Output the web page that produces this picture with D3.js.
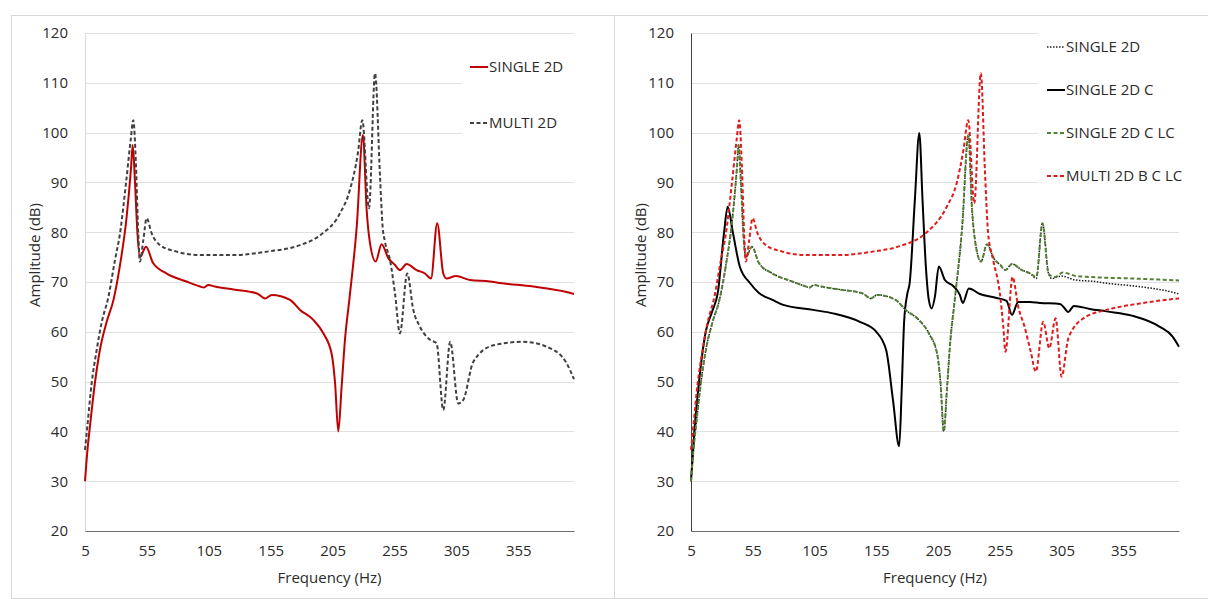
<!DOCTYPE html>
<html>
<head>
<meta charset="utf-8">
<script src="https://cdn.jsdelivr.net/npm/d3@7/dist/d3.min.js"></script>
<style>
  body { margin: 0; background: #fff; }
  text { font-family: "Open Sans", sans-serif; fill: #2b2b2b; }
</style>
</head>
<body>
<svg id="graph" width="1208" height="599"></svg>
<script>
// axis ticks
const freqTicks = [5, 55, 105, 155, 205, 255, 305, 355];
const ampTicks = [20, 30, 40, 50, 60, 70, 80, 90, 100, 110, 120];

// SINGLE 2D (red on the left, dotted on the right)
const single2dF = [5, 7, 9, 13, 17, 22.5, 28, 33, 38.6, 42.2, 43.5, 45.4, 47.3, 49.4, 54.3, 60, 71, 87, 98, 101, 104.6, 110, 125, 144, 150.4, 155.8, 170.6, 178.7, 189.4, 197.5, 204.3, 207, 209.6, 212.3, 215, 218.5, 224.5, 229.5, 232.5, 235.2, 239.8, 244.6, 250, 255.4, 259.4, 264.8, 272.8, 279.6, 284.5, 289.5, 294.4, 297, 304.7, 316, 332, 340, 367, 394, 400];
const single2dA = [30, 36.3, 41, 49.7, 56.3, 62, 66.4, 73, 83, 93, 97.5, 90, 80, 75, 77.1, 73.8, 71.7, 70.1, 69.1, 68.9, 69.4, 69.1, 68.5, 67.7, 66.7, 67.4, 66.4, 64.4, 62.4, 59.7, 55.5, 49.7, 40, 49, 58.4, 66.4, 81.1, 99.5, 84.5, 77.8, 74.1, 77.6, 74.8, 73.4, 72.4, 73.6, 72.4, 71.7, 70.7, 81.8, 71.7, 70.7, 71.2, 70.4, 70.1, 69.8, 69.1, 68, 67.6];

// MULTI 2D (left, grey dashed)
const multi2dF = [5, 6.9, 10.4, 14.4, 18.4, 23.9, 29.2, 33.3, 38.1, 41.9, 44, 46.2, 48, 49.4, 52.1, 54.8, 58.8, 65.6, 79, 98, 125, 152, 178.7, 195, 211, 219, 225.5, 229, 234.4, 239.3, 243.3, 245.4, 247.3, 251.4, 255.4, 259.4, 265.3, 270.2, 275.6, 283.7, 289, 294.4, 300, 306.5, 310.5, 318.7, 335, 359, 380.6, 394, 400];
const multi2dA = [36.3, 41, 49.7, 56.3, 61.8, 67, 74.4, 79.8, 89.8, 98.5, 102.5, 93.2, 79.8, 74.1, 78.4, 82.8, 79.8, 77.4, 76.1, 75.4, 75.4, 76.1, 77.4, 79.4, 83.8, 88.5, 96, 102.5, 84.8, 111.9, 91.2, 81.1, 78.1, 74.4, 67.7, 59.7, 71.7, 64.4, 61, 58.4, 57.7, 44.3, 58, 45.6, 46.3, 54, 57.3, 58, 56.7, 53.7, 50.5];

// SINGLE 2D C (right, black)
const single2dCF = [5, 7.7, 11.5, 17, 22, 26.8, 31.7, 34.7, 39, 44.6, 52.7, 60, 71, 79.7, 104, 120, 141.7, 155, 163, 168.5, 173.5, 175.5, 177.5, 180, 182, 186.2, 189.8, 192.4, 195.1, 197.5, 199.8, 202.4, 205.6, 210.5, 217.2, 222.6, 225, 229.9, 238.8, 252.3, 260.4, 264.8, 269.8, 279.3, 287.4, 303.6, 306.2, 310.3, 315, 327.8, 341.4, 362.6, 384.5, 395, 400];
const single2dCA = [30, 40, 50, 60.1, 64, 68, 79.8, 85.1, 79.8, 73, 69.8, 67.8, 66.4, 65.4, 64.4, 63.7, 62, 60, 56.3, 46.3, 37, 48, 62, 67.5, 69.8, 86.5, 99.9, 86.5, 73.1, 66.4, 64.7, 67, 73.1, 70.4, 69.2, 67.4, 65.8, 68.7, 67.6, 66.8, 66.2, 63.4, 66, 66, 65.8, 65.6, 65.1, 64, 65.2, 64.6, 64.1, 63.2, 61, 59, 57];

// SINGLE 2D C LC (right, green dashed)
const single2dCLCF = [5, 7, 9, 13, 17, 22.5, 28, 33, 38.6, 42.2, 43.5, 45.4, 47.3, 49.4, 54.3, 60, 71, 87, 98, 101, 104.6, 110, 125, 144, 150.4, 155.8, 170.6, 178.7, 189.4, 197.5, 204.3, 207, 209.6, 212.3, 215, 218.5, 224.5, 229.5, 232.5, 235.2, 239.8, 244.6, 250, 255.4, 259.4, 264.8, 272.8, 279.6, 284.5, 289.5, 294.4, 299.5, 306, 317, 328, 336, 362.6, 400];
const single2dCLCA = [30, 36.3, 41, 49.7, 56.3, 62, 66.4, 73, 83, 93, 97.5, 90, 80, 75, 77.1, 73.8, 71.7, 70.1, 69.1, 68.9, 69.4, 69.1, 68.5, 67.7, 66.7, 67.4, 66.4, 64.4, 62.4, 59.7, 55.5, 49.7, 40, 49, 58.4, 66.4, 81.1, 99.5, 84.5, 77.8, 74.1, 77.6, 74.8, 73.4, 72.4, 73.6, 72.4, 71.7, 71, 81.8, 71.7, 71, 71.9, 71.2, 71, 70.9, 70.7, 70.3];

// MULTI 2D B C LC (right, red dashed)
const multiBCLCF = [5, 6.9, 10.4, 14.4, 18.4, 23.9, 29.2, 33.3, 38.1, 41.9, 44, 46.2, 48, 49.4, 52.1, 54.8, 58.8, 65.6, 79, 98, 125, 152, 174, 195, 212, 220, 225.5, 229.4, 234.3, 239.6, 242.9, 245.5, 249.6, 255, 257.8, 259.5, 265.3, 269.9, 275, 280, 284.1, 290.1, 295, 300.1, 305, 310.4, 322.6, 341.4, 368.4, 400];
const multiBCLCA = [36.3, 41, 49.7, 56.3, 61.8, 67, 74.4, 79.8, 89.8, 98.5, 102.5, 93.2, 79.8, 74.1, 78.4, 82.8, 79.8, 77.4, 76.1, 75.4, 75.4, 76.1, 77.2, 79.8, 85.1, 89.8, 96.5, 102.5, 85.8, 111.9, 92.5, 79.8, 74.4, 67.7, 61, 56, 71, 65, 61, 56, 52, 62, 56.7, 62.7, 51, 58.7, 62.7, 64.4, 65.7, 66.7];

const svg = d3.select("#graph");

const panels = [
  {
    frame: {x: 11, y: 15, w: 603, h: 583},
    plot: {left: 85, right: 574, top: 33, bottom: 531},
    yAxisColor: "#d9d9d9",
    titleX: 35,
    legendBox: {x: 462, y: 40, w: 140, h: 110},
    legendX: 470,
    legendY: [67, 123],
    series: [
      {name: "SINGLE 2D", f: single2dF, a: single2dA, color: "#c00000", width: 2, dash: null},
      {name: "MULTI 2D", f: multi2dF, a: multi2dA, color: "#404040", width: 2, dash: "4,2.5"}
    ]
  },
  {
    frame: {x: 614, y: 15, w: 620, h: 583},
    plot: {left: 691, right: 1179, top: 33, bottom: 531},
    yAxisColor: "#404040",
    titleX: 641,
    legendBox: {x: 1038, y: 22, w: 170, h: 180},
    legendX: 1047,
    legendY: [47, 90, 133, 176],
    series: [
      {name: "SINGLE 2D", f: single2dF, a: single2dA, color: "#202020", width: 1.5, dash: "1.5,1.5"},
      {name: "SINGLE 2D C", f: single2dCF, a: single2dCA, color: "#000000", width: 2, dash: null},
      {name: "SINGLE 2D C LC", f: single2dCLCF, a: single2dCLCA, color: "#548235", width: 2, dash: "4,2.5"},
      {name: "MULTI 2D B C LC", f: multiBCLCF, a: multiBCLCA, color: "#e01b1b", width: 2, dash: "4,2.5"}
    ]
  }
];

panels.forEach(p => {
  const g = svg.append("g");

  g.append("rect")
    .attr("x", p.frame.x + 0.5).attr("y", p.frame.y + 0.5)
    .attr("width", p.frame.w).attr("height", p.frame.h)
    .attr("fill", "#fff").attr("stroke", "#d9d9d9");

  const x = d3.scaleLinear().domain([5, 400]).range([p.plot.left, p.plot.right]);
  const y = d3.scaleLinear().domain([20, 120]).range([p.plot.bottom, p.plot.top]);

  // gridlines
  g.append("g")
    .selectAll("line")
    .data(ampTicks.filter(d => d > 20))
    .join("line")
    .attr("x1", p.plot.left).attr("x2", p.plot.right)
    .attr("y1", d => Math.round(y(d)) + 0.5).attr("y2", d => Math.round(y(d)) + 0.5)
    .attr("stroke", "#e0e0e0");

  // y axis
  const yAxis = g.append("g")
    .attr("transform", `translate(${p.plot.left},0)`)
    .call(d3.axisLeft(y).tickValues(ampTicks).tickSize(0).tickPadding(17));
  yAxis.select(".domain").attr("stroke", p.yAxisColor);
  yAxis.selectAll("text").attr("font-size", 15).attr("font-family", "Open Sans");

  // x axis
  const xAxis = g.append("g")
    .attr("transform", `translate(0,${p.plot.bottom})`)
    .call(d3.axisBottom(x).tickValues(freqTicks).tickSize(0).tickPadding(14));
  xAxis.select(".domain").attr("stroke", "#6e6e6e");
  xAxis.selectAll("text").attr("font-size", 15).attr("font-family", "Open Sans");

  // axis titles
  g.append("text")
    .attr("x", (p.plot.left + p.plot.right) / 2).attr("y", 583)
    .attr("text-anchor", "middle").attr("font-size", 15)
    .text("Frequency (Hz)");
  g.append("text")
    .attr("transform", `translate(${p.titleX},255) rotate(-90)`)
    .attr("text-anchor", "middle").attr("dy", "0.35em").attr("font-size", 15)
    .text("Amplitude (dB)");

  // series
  const line = d3.line()
    .x(d => x(d[0]))
    .y(d => y(d[1]))
    .curve(d3.curveMonotoneX);

  g.append("g")
    .selectAll("path")
    .data(p.series)
    .join("path")
    .attr("d", s => line(d3.zip(s.f, s.a)))
    .attr("fill", "none")
    .attr("stroke", s => s.color)
    .attr("stroke-width", s => s.width)
    .attr("stroke-dasharray", s => s.dash)
    .attr("stroke-linejoin", "round");

  // legend
  g.append("rect")
    .attr("x", p.legendBox.x).attr("y", p.legendBox.y)
    .attr("width", p.legendBox.w).attr("height", p.legendBox.h)
    .attr("fill", "#fff");

  const leg = g.append("g")
    .selectAll("g")
    .data(p.series)
    .join("g")
    .attr("transform", (s, i) => `translate(${p.legendX},${p.legendY[i]})`);
  leg.append("line")
    .attr("x1", 0).attr("x2", 18)
    .attr("stroke", s => s.color)
    .attr("stroke-width", s => s.width)
    .attr("stroke-dasharray", s => s.dash);
  leg.append("text")
    .attr("x", 19).attr("dy", "0.35em").attr("font-size", 15)
    .text(s => s.name);
});
</script>
</body>
</html>
